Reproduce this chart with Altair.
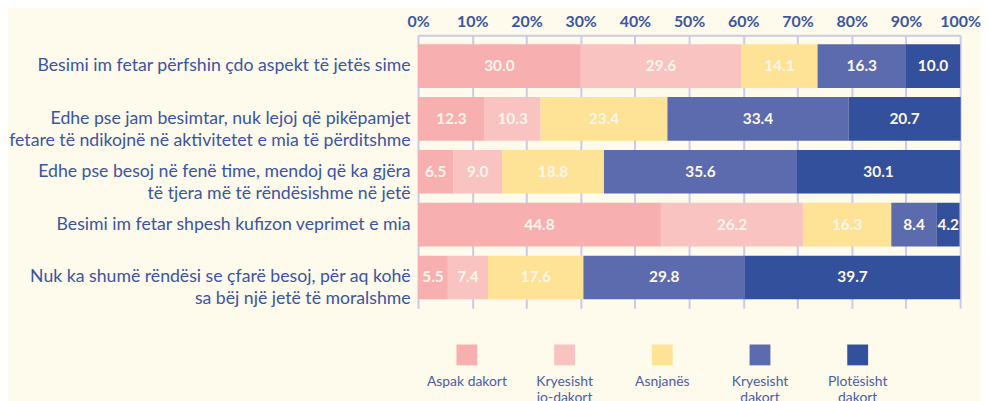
import altair as alt
import pandas as pd

statements = [
    "Besimi im fetar përfshin çdo aspekt të jetës sime",
    "Edhe pse jam besimtar, nuk lejoj që pikëpamjet|fetare të ndikojnë në aktivitetet e mia të përditshme",
    "Edhe pse besoj në fenë time, mendoj që ka gjëra|të tjera më të rëndësishme në jetë",
    "Besimi im fetar shpesh kufizon veprimet e mia",
    "Nuk ka shumë rëndësi se çfarë besoj, për aq kohë|sa bëj një jetë të moralshme",
]
categories = ["Aspak dakort", "Kryesisht jo-dakort", "Asnjanës", "Kryesisht dakort", "Plotësisht dakort"]
legend_labels = ["Aspak dakort", "Kryesisht\njo-dakort", "Asnjanës", "Kryesisht\ndakort", "Plotësisht\ndakort"]
colors = ["#f8afaf", "#f9c3c1", "#fee295", "#5c6bad", "#33509c"]

aspak = [30.0, 12.3, 6.5, 44.8, 5.5]
jo_dakort = [29.6, 10.3, 9.0, 26.2, 7.4]
asnjanes = [14.1, 23.4, 18.8, 16.3, 17.6]
dakort = [16.3, 33.4, 35.6, 8.4, 29.8]
plotesisht = [10.0, 20.7, 30.1, 4.2, 39.7]

series = [aspak, jo_dakort, asnjanes, dakort, plotesisht]
rows = []
for ci, (cat, vals) in enumerate(zip(categories, series)):
    for si, (st, v) in enumerate(zip(statements, vals)):
        rows.append({"statement": st, "cat": cat, "order": ci, "value": v, "label": f"{v:.1f}"})
df = pd.DataFrame(rows)

BLUE = "#3a55a2"
GRID = "#c9cbe8"
FONT = "Lato"
EXT = 407

x_enc = alt.X(
    "value:Q",
    stack="zero",
    scale=alt.Scale(domain=[0, 100], nice=False),
    axis=alt.Axis(
        orient="top", values=list(range(0, 101, 10)), labelExpr="datum.value + '%'",
        title=None, ticks=False, labelPadding=6, labelFontSize=16, labelFontWeight="bold",
        labelColor=BLUE, labelFont=FONT, domainColor=GRID, domainWidth=2,
        grid=True, gridColor=GRID, gridWidth=2, labelFlush=False,
    ),
)
y_enc = alt.Y(
    "statement:N",
    sort=statements,
    scale=alt.Scale(paddingInner=0.174, paddingOuter=0.17),
    axis=alt.Axis(
        title=None, ticks=False, domain=False, labelPadding=8,
        labelExpr="split(datum.label, '|')", labelFontSize=17.8, labelColor=BLUE,
        labelFont=FONT, labelLineHeight=22, labelLimit=0, minExtent=EXT, maxExtent=EXT,
    ),
)

bars = alt.Chart(df).mark_bar().encode(
    x=x_enc,
    y=y_enc,
    color=alt.Color("cat:N", scale=alt.Scale(domain=categories, range=colors), legend=None),
    order=alt.Order("order:Q"),
)
texts = alt.Chart(df).mark_text(
    color="#fdf6ec", fontSize=15.5, fontWeight="bold", font=FONT
).encode(
    x=alt.X("value:Q", stack="zero", bandPosition=0.5),
    y=alt.Y("statement:N", sort=statements),
    text="label:N",
    order=alt.Order("order:Q"),
)
main = alt.layer(bars, texts).properties(width=546, height=275)

leg_df = pd.DataFrame({"cat": categories, "lab": legend_labels, "row": ["a"] * 5})
leg_x = alt.X("cat:N", sort=categories, scale=alt.Scale(paddingOuter=0.1, paddingInner=0), axis=None)
leg_y = alt.Y(
    "row:N",
    axis=alt.Axis(labels=False, ticks=False, domain=False, title=None, grid=False,
                  minExtent=EXT, maxExtent=EXT),
)
squares = alt.Chart(leg_df).mark_square(size=441, opacity=1).encode(
    x=leg_x, y=leg_y,
    color=alt.Color("cat:N", scale=alt.Scale(domain=categories, range=colors), legend=None),
)
leg_text = alt.Chart(leg_df).mark_text(
    baseline="top", dy=20, fontSize=14, color="#4a5ea8", font=FONT, lineBreak="\n", lineHeight=16
).encode(x=leg_x, y=leg_y, text="lab:N")
legend = alt.layer(squares, leg_text).properties(width=492, height=22)

chart = alt.vconcat(main, legend, spacing=36).properties(
    background="#fefaec",
    padding={"left": 0, "top": 4, "right": 0, "bottom": 0},
).configure_view(stroke=None).configure_axisX(grid=True)

chart.save("out.html", embed_options={"renderer": "svg", "actions": False})
